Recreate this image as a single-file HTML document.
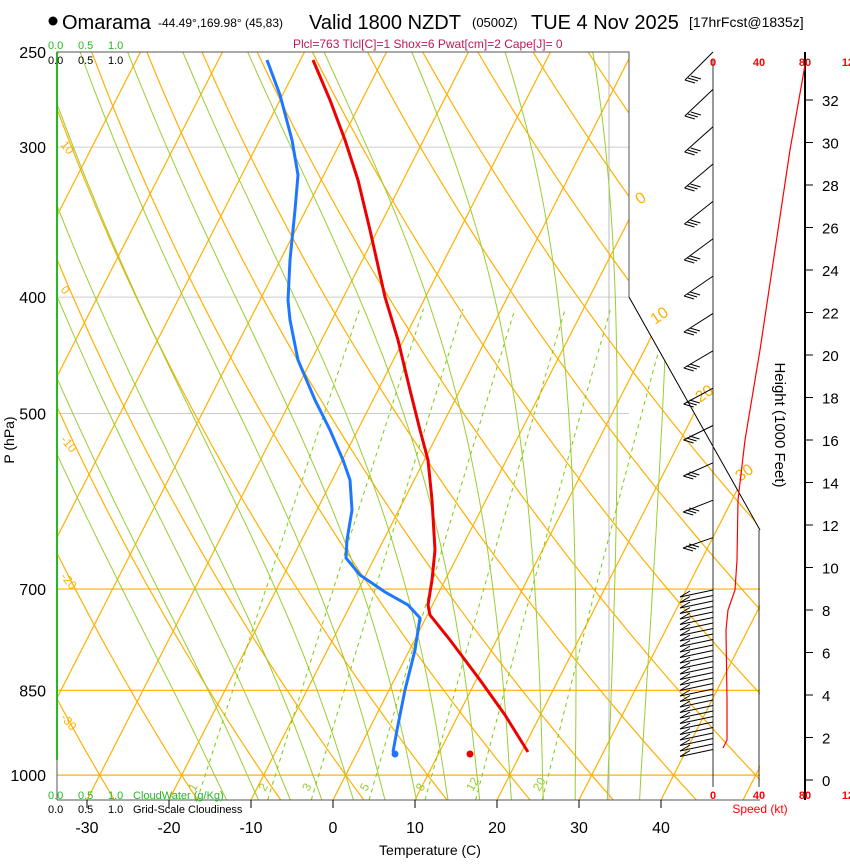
<!DOCTYPE html>
<html><head><meta charset="utf-8"><style>
body{margin:0;background:#fff;width:850px;height:860px;overflow:hidden;font-family:"Liberation Sans",sans-serif}
svg text{font-family:"Liberation Sans",sans-serif}
</style></head><body>
<svg id="s" width="850" height="860" xmlns="http://www.w3.org/2000/svg">
<defs><clipPath id="cp"><polygon points="57,52 629,52 629,297 760,530 760,800 57,800"/></clipPath>
<clipPath id="cp2"><polygon points="57,52 629,52 629,800 57,800"/></clipPath></defs>
<g id="grid" clip-path="url(#cp)"></g>
<g id="fg"></g>
<circle cx="53" cy="21" r="4.5" fill="#000"/>
<text x="62" y="29" font-size="20">Omarama</text>
<text x="158" y="27" font-size="12">-44.49°,169.98° (45,83)</text>
<text x="309" y="29" font-size="20">Valid 1800 NZDT</text>
<text x="472" y="27" font-size="13">(0500Z)</text>
<text x="531" y="29" font-size="20">TUE 4 Nov 2025</text>
<text x="689" y="27" font-size="14">[17hrFcst@1835z]</text>
<text x="293" y="48" font-size="12" fill="#c0185a">Plcl=763 Tlcl[C]=1 Shox=6 Pwat[cm]=2 Cape[J]= 0</text>
<text x="48" y="49" font-size="11" fill="#22bb22">0.0</text><text x="78" y="49" font-size="11" fill="#22bb22">0.5</text><text x="108" y="49" font-size="11" fill="#22bb22">1.0</text>
<text x="48" y="64" font-size="11">0.0</text><text x="78" y="64" font-size="11">0.5</text><text x="108" y="64" font-size="11">1.0</text>
<text x="48" y="799" font-size="11" fill="#22bb22">0.0</text><text x="78" y="799" font-size="11" fill="#22bb22">0.5</text><text x="108" y="799" font-size="11" fill="#22bb22">1.0</text><text x="133" y="799" font-size="11" fill="#22bb22">CloudWater (g/Kg)</text>
<text x="48" y="813" font-size="11">0.0</text><text x="78" y="813" font-size="11">0.5</text><text x="108" y="813" font-size="11">1.0</text><text x="133" y="813" font-size="11">Grid-Scale Cloudiness</text>
<text x="14" y="440" font-size="14" transform="rotate(-90 14 440)" text-anchor="middle">P (hPa)</text>
<text x="430" y="855" font-size="14" text-anchor="middle">Temperature (C)</text>
<text x="775" y="425" font-size="15" transform="rotate(90 775 425)" text-anchor="middle">Height (1000 Feet)</text>
<text x="760" y="813" font-size="12" fill="#ff0000" text-anchor="middle">Speed (kt)</text>
</svg>
<script>
var NS="http://www.w3.org/2000/svg";
function el(par,tag,a,txt){var e=document.createElementNS(NS,tag);for(var k in a)e.setAttribute(k,a[k]);if(txt!==undefined)e.textContent=txt;document.getElementById(par).appendChild(e);return e;}
function Y(p){return 52+521.6*Math.log(p/250);}
function X(T,p){return 333+8.2*T+0.51*(800-Y(p));}
function poly(par,pts,st){return el(par,"polyline",Object.assign({points:pts.map(function(q){return q[0].toFixed(1)+","+q[1].toFixed(1)}).join(" "),fill:"none"},st));}
var PB=1049,PT=245;
// horizontal lines
[300,400,500].forEach(function(p){el("grid","line",{x1:57,x2:629,y1:Y(p),y2:Y(p),stroke:"#ccc","stroke-width":1});});
[700,850,1000].forEach(function(p){el("grid","line",{x1:57,x2:760,y1:Y(p),y2:Y(p),stroke:"#ffb000","stroke-width":1.2});});
el("grid","line",{x1:609,x2:609,y1:52,y2:800,stroke:"#bbb","stroke-width":1});
// isotherms
for(var T=-120;T<=50;T+=10){el("grid","line",{x1:X(T,PB),y1:Y(PB),x2:X(T,PT),y2:Y(PT),stroke:"#ffb000","stroke-width":1.2});}
// dry adiabats
for(var th=-40;th<=220;th+=10){var pts=[];for(var p=PB;p>=PT;p-=10){var Tk=(th+273.15)*Math.pow(p/1000,0.286);pts.push([X(Tk-273.15,p),Y(p)]);}poly("grid",pts,{stroke:"#ffb000","stroke-width":1.2});}
// moist adiabats
function es(T){return 6.112*Math.exp(17.67*T/(T+243.5));}
for(var t0=-16;t0<=36;t0+=4){var Tk=t0+273.15,pts=[];
 // go down to PB first
 var p=1000,Td=Tk;var down=[];
 function dTdp(Tk,p){var e=es(Tk-273.15),rs=0.622*e/(p-e);return (287*Tk+2.5e6*rs)/(p*(1004+2.5e6*2.5e6*rs*0.622/(287*Tk*Tk)));}
 for(p=1000;p<PB;p+=2){Td+=dTdp(Td,p)*2;} pts.push([X(Td-273.15,PB),Y(PB)]);
 for(p=1000;p>=PT;p-=2){if(p%10==0)pts.push([X(Tk-273.15,p),Y(p)]);Tk-=dTdp(Tk,p)*2;}
 poly("grid",pts,{stroke:"#9acd32","stroke-width":1});}
// mixing ratio
[1,2,3,5,8,12,20].forEach(function(w){var pts=[];for(var p=PB;p>=400;p-=10){var e=w*p/(622+w),l=Math.log(e/6.112),T=243.5*l/(17.67-l);pts.push([X(T,p),Y(p)]);}poly("grid",pts,{stroke:"#7ccd00","stroke-width":1,"stroke-dasharray":"4,4"});
 var e=w*1040/(622+w),l=Math.log(e/6.112),T=243.5*l/(17.67-l);el("fg","text",{x:X(T,1040)-4,y:792,"font-size":12,fill:"#9acd32",transform:"rotate(-60 "+(X(T,1040)-4)+" 792)"},""+w);});
// frame
el("fg","polyline",{points:"57,800 57,52 629,52 629,297",fill:"none",stroke:"#555","stroke-width":1});
el("fg","line",{x1:57,y1:800,x2:760,y2:800,stroke:"#555"});
el("fg","line",{x1:629,y1:297,x2:760,y2:530,stroke:"#000"});
el("fg","line",{x1:57,y1:52,x2:57,y2:760,stroke:"#22bb22","stroke-width":2});
// theta labels
[["10",145],["0",290],["-10",440],["-20",577],["-30",718]].forEach(function(a){el("fg","text",{x:60,y:a[1],"font-size":12,fill:"#ffb000",transform:"rotate(50 60 "+a[1]+")"},a[0]);});
[["0",640,205],["10",655,325],["20",700,403],["30",740,482]].forEach(function(a){el("fg","text",{x:a[1],y:a[2],"font-size":16,fill:"#ffb000",transform:"rotate(-35 "+a[1]+" "+a[2]+")"},a[0]);});
// P labels
[[250,"250"],[300,"300"],[400,"400"],[500,"500"],[700,"700"],[850,"850"],[1000,"1000"]].forEach(function(a){el("fg","text",{x:46,y:Y(a[0])+6,"font-size":16,"text-anchor":"end"},a[1]);});
// T labels
for(var T=-30;T<=40;T+=10){var x=333+8.2*T;el("fg","line",{x1:x,x2:x,y1:800,y2:808,stroke:"#000"});el("fg","text",{x:x,y:833,"font-size":16,"text-anchor":"middle"},""+T);}
// right axes
el("fg","line",{x1:805,y1:52,x2:805,y2:800,stroke:"#000","stroke-width":2});
el("fg","line",{x1:713,y1:60,x2:713,y2:787,stroke:"#333","stroke-width":1});
el("fg","line",{x1:759,y1:530,x2:759,y2:787,stroke:"#333","stroke-width":1});
for(var h=0;h<=32;h+=2){var y=780-21.25*h;el("fg","line",{x1:805,x2:813,y1:y,y2:y,stroke:"#000"});el("fg","text",{x:822,y:y+6,"font-size":15},""+h);}
[["0",713],["40",759],["80",805],["120",851]].forEach(function(a){el("fg","text",{x:a[1],y:66,"font-size":11,fill:"#f00","text-anchor":"middle","font-weight":"bold"},a[0]);el("fg","text",{x:a[1],y:799,"font-size":11,fill:"#f00","text-anchor":"middle","font-weight":"bold"},a[0]);});
// barbs
for(var y=80;y<=560;y+=36){var k=(y-80)/480;var dx=-28+k*-2,dy=28-k*18;el("fg","line",{x1:713,y1:y-dy,x2:713+dx,y2:y,stroke:"#000"});for(var i=0;i<3;i++){el("fg","line",{x1:713+dx+i*3,y1:y-i*2,x2:713+dx+i*3+10,y2:y-i*2+3,stroke:"#000"});}}
for(var y=590;y<=752;y+=5.5){el("fg","line",{x1:713,y1:y,x2:680,y2:y+7,stroke:"#000"});el("fg","line",{x1:680,y1:y+7,x2:690,y2:y+1,stroke:"#000"});}
// speed curve
poly("fg",[[805,65],[790,150],[775,250],[760,350],[745,440],[738,500],[737,560],[735,590],[728,610],[726,630],[727,700],[727,740],[723,748]],{stroke:"#f00","stroke-width":1.2});
// profiles
poly("fg",[[313,60],[330,100],[345,140],[358,180],[370,230],[385,297],[398,340],[410,390],[420,430],[428,460],[432,500],[435,550],[432,580],[428,605],[430,615],[450,640],[480,680],[505,715],[528,752]],{stroke:"#ee0000","stroke-width":3});
poly("fg",[[267,60],[280,95],[292,140],[298,175],[295,210],[290,260],[288,300],[290,320],[298,360],[315,400],[330,430],[343,460],[350,480],[352,510],[347,540],[346,558],[360,575],[385,592],[408,605],[420,618],[415,650],[405,690],[397,730],[393,752]],{stroke:"#1e78ff","stroke-width":3});
el("fg","circle",{cx:470,cy:754,r:3.5,fill:"#e00"});
el("fg","circle",{cx:395,cy:754,r:3.5,fill:"#1e78ff"});
</script>
</body></html>
